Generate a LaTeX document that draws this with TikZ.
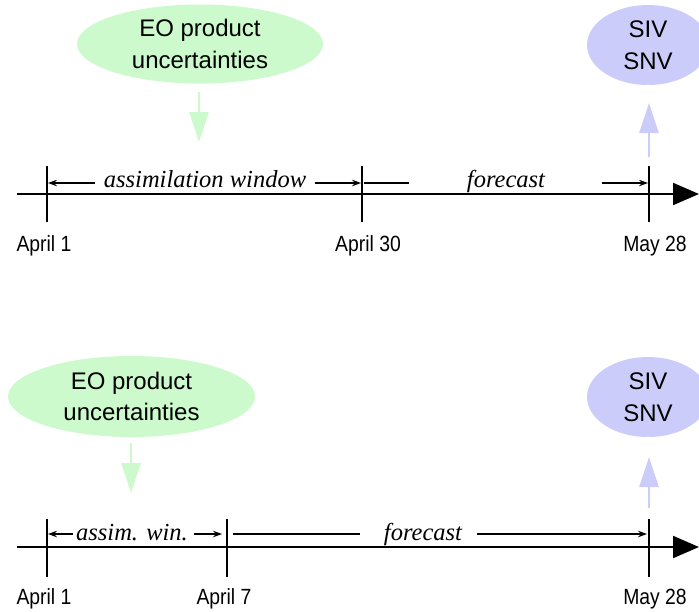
\documentclass[tikz,border=0pt]{standalone}
\usepackage{fontspec}
\setmainfont{Liberation Sans}
\newfontfamily\datefont{Liberation Sans}[FakeStretch=0.88]
\newfontfamily\spanfont{Liberation Serif}
\usetikzlibrary{arrows.meta,shapes.geometric}
\definecolor{eogreen}{RGB}{204,250,204}
\definecolor{outblue}{RGB}{204,204,250}
\tikzset{
  axis/.style={line width=2pt,-{Triangle[length=26pt,width=22pt]}},
  tick/.style={line width=2pt},
  dim/.style={line width=1.1pt,-{Stealth[length=9pt,width=6.5pt]}},
  dimline/.style={line width=1.1pt},
  bubble/.style={ellipse,inner sep=0pt,align=center,
    font=\fontsize{24}{31.5}\selectfont},
  greenbubble/.style={bubble,fill=eogreen},
  bluebubble/.style={bubble,fill=outblue},
  feed/.style={line width=2.5pt,-{Triangle[length=30pt,width=19pt]}},
  datelabel/.style={anchor=base,inner sep=0pt,font=\datefont\fontsize{22}{24}\selectfont},
  spanlabel/.style={anchor=base,inner sep=0pt,font=\spanfont\itshape\fontsize{24.5}{26}\selectfont},
}
\begin{document}
\begin{tikzpicture}[x=1pt,y=-1pt]
\useasboundingbox (0,0) rectangle (699,611);

% ---------- upper time line: one-month assimilation window ----------
\node[greenbubble,minimum width=246pt,minimum height=79pt] (eoA) at (200,44)
  {EO product\\uncertainties};
\node[bluebubble,minimum width=122pt,minimum height=80pt] (outA) at (648,45)
  {SIV\\SNV};

\coordinate (axA0) at (17,194);
\coordinate (axA1) at (699,194);
\draw[axis] (axA0) -- (axA1);

\coordinate (tA1) at (47,194);
\coordinate (tA2) at (362,194);
\coordinate (tA3) at (649,194);
\foreach \t in {tA1,tA2,tA3}
  \draw[tick] ([yshift=-28pt]\t) -- ([yshift=28pt]\t);

\coordinate (inA) at (199,92);
\coordinate (inAend) at (199,142);
\draw[feed,eogreen] (inA) -- (inAend);
\coordinate (fcA) at (649,157);
\coordinate (fcAend) at (649,103);
\draw[feed,outblue] (fcA) -- (fcAend);

\node[spanlabel] (awA) at (205,187) {assimilation window};
\node[spanlabel] (fcLabA) at (506,187) {forecast};
\coordinate (awAl) at (95,183);   \coordinate (awAa) at (48,183);
\coordinate (awAr) at (315,183);  \coordinate (awAb) at (361,183);
\coordinate (fcAl0) at (364,183); \coordinate (fcAl1) at (409,183);
\coordinate (fcAr) at (602,183);  \coordinate (fcAb) at (648,183);
\draw[dim] (awAl) -- (awAa);
\draw[dim] (awAr) -- (awAb);
\draw[dimline] (fcAl0) -- (fcAl1);
\draw[dim] (fcAr) -- (fcAb);

\node[datelabel] (dA1) at (44,251) {April 1};
\node[datelabel] (dA2) at (368,251) {April 30};
\node[datelabel] (dA3) at (655,251) {May 28};

% ---------- lower time line: one-week assimilation window ----------
\node[greenbubble,minimum width=247pt,minimum height=81pt] (eoB) at (131.5,396.5)
  {EO product\\uncertainties};
\node[bluebubble,minimum width=122pt,minimum height=80pt] (outB) at (648,397)
  {SIV\\SNV};

\coordinate (axB0) at (17,547);
\coordinate (axB1) at (699,547);
\draw[axis] (axB0) -- (axB1);

\coordinate (tB1) at (47,547);
\coordinate (tB2) at (227,547);
\coordinate (tB3) at (649,547);
\foreach \t in {tB1,tB2,tB3}
  \draw[tick] ([yshift=-30pt]\t) -- ([yshift=28pt]\t);

\coordinate (inB) at (131,443);
\coordinate (inBend) at (131,493);
\draw[feed,eogreen] (inB) -- (inBend);
\coordinate (fcB) at (649,508);
\coordinate (fcBend) at (649,457);
\draw[feed,outblue] (fcB) -- (fcBend);

\node[spanlabel] (awB) at (132,540) {assim. win.};
\node[spanlabel] (fcLabB) at (423,540) {forecast};
\coordinate (awBl) at (73,534);   \coordinate (awBa) at (48,534);
\coordinate (awBr) at (194,534);  \coordinate (awBb) at (222,534);
\coordinate (fcBl0) at (233,534); \coordinate (fcBl1) at (360,534);
\coordinate (fcBr) at (477,534);  \coordinate (fcBb) at (647,534);
\draw[dim] (awBl) -- (awBa);
\draw[dim] (awBr) -- (awBb);
\draw[dimline] (fcBl0) -- (fcBl1);
\draw[dim] (fcBr) -- (fcBb);

\node[datelabel] (dB1) at (44,604) {April 1};
\node[datelabel] (dB2) at (224,604) {April 7};
\node[datelabel] (dB3) at (655,604) {May 28};
\end{tikzpicture}
\end{document}
